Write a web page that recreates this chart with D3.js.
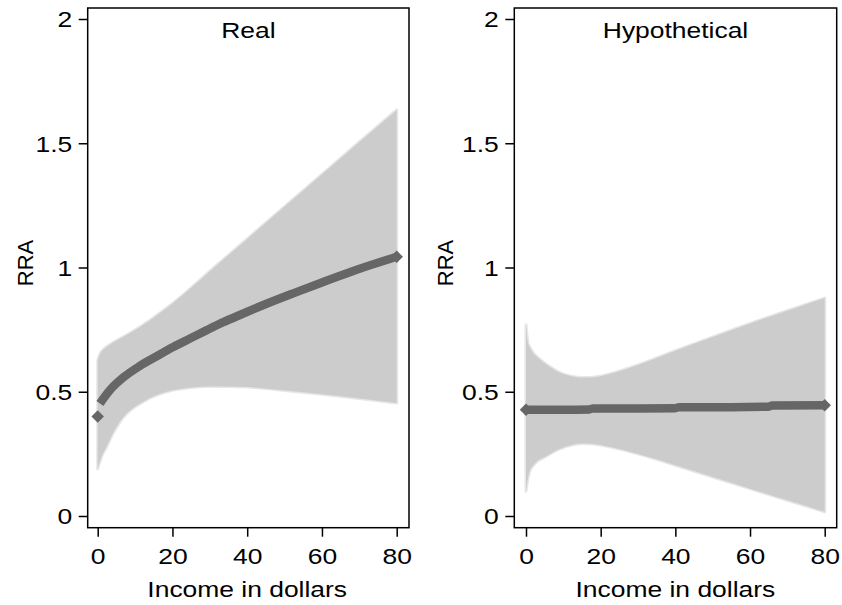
<!DOCTYPE html>
<html>
<head>
<meta charset="utf-8">
<script src="https://cdn.jsdelivr.net/npm/d3@7"></script>
<style>
  html, body { margin: 0; padding: 0; background: #fff; }
  text { font-family: "Liberation Sans", Arial, Helvetica, sans-serif; fill: #000; }
</style>
</head>
<body>
<svg id="chart" width="842" height="605"></svg>
<script>
// ---------------- data ----------------
const panelTitles = ["Real", "Hypothetical"];
const xTicks = [0, 20, 40, 60, 80];
const yTicks = [0, 0.5, 1, 1.5, 2];
const xAxisTitle = "Income in dollars";
const yAxisTitle = "RRA";

// Real: confidence band
const realBandIncome = [0, 0.5, 1.5, 2, 4, 6, 7, 10, 12, 14, 16, 20, 24, 30, 35, 40, 50, 60, 70, 80];
const realUpper      = [0.625, 0.648, 0.67, 0.676, 0.697, 0.714, 0.722, 0.748, 0.768, 0.788, 0.81, 0.855, 0.905, 0.985, 1.05, 1.115, 1.245, 1.375, 1.505, 1.634];
const realLower      = [0.19, 0.215, 0.255, 0.268, 0.33, 0.38, 0.40, 0.44, 0.458, 0.475, 0.488, 0.506, 0.515, 0.521, 0.521, 0.519, 0.505, 0.49, 0.473, 0.455];
// Real: estimate
const realMeanIncome = [0, 0.6, 3.3, 6.9, 11.3, 15.8, 20.2, 24.7, 29.2, 33.6, 38.5, 45, 53, 60, 68, 80];
const realMean       = [0.40, 0.453, 0.507, 0.558, 0.604, 0.643, 0.68, 0.714, 0.748, 0.78, 0.812, 0.853, 0.90, 0.94, 0.984, 1.043];

// Hypothetical: confidence band
const hypBandIncome = [0, 0.5, 1, 2, 3, 5, 7, 9, 12, 15, 18, 22, 26, 30, 35, 40, 50, 60, 70, 80];
const hypUpper      = [0.77, 0.70, 0.68, 0.655, 0.64, 0.615, 0.595, 0.577, 0.563, 0.557, 0.558, 0.57, 0.588, 0.608, 0.636, 0.665, 0.72, 0.775, 0.826, 0.877];
const hypLower      = [0.10, 0.15, 0.18, 0.205, 0.22, 0.237, 0.255, 0.27, 0.285, 0.292, 0.29, 0.28, 0.266, 0.25, 0.228, 0.204, 0.157, 0.11, 0.063, 0.017];
// Hypothetical: estimate
const hypMeanIncome = [0, 10, 17, 18, 30, 40, 41, 55, 65, 66, 80];
const hypMean       = [0.428, 0.428, 0.429, 0.433, 0.433, 0.434, 0.438, 0.438, 0.44, 0.445, 0.446];

// ---------------- layout ----------------
const FONT = 21.5, SX = 1.23;
const panels = [
  { title: panelTitles[0], frame: [87.7, 8, 409, 527.7], xr: [97.7, 396.7],
    bandX: realBandIncome, upper: realUpper, lower: realLower,
    meanX: realMeanIncome, mean: realMean, lineFrom: 1, ylabX: 33.3 },
  { title: panelTitles[1], frame: [514.3, 8, 836.7, 527.7], xr: [526, 824.7],
    bandX: hypBandIncome, upper: hypUpper, lower: hypLower,
    meanX: hypMeanIncome, mean: hypMean, lineFrom: 0, ylabX: 453.3 }
];

const svg = d3.select("#chart");
const y = d3.scaleLinear().domain([0, 2]).range([516, 19]);
const diamond = d3.symbol().type(d3.symbolSquare).size(78);

panels.forEach(p => {
  const [fx0, fy0, fx1, fy1] = p.frame;
  const x = d3.scaleLinear().domain([0, 80]).range(p.xr);
  const g = svg.append("g");

  // band
  const band = p.bandX.map((d, i) => ({ x: d, lo: p.lower[i], hi: p.upper[i] }));
  const area = d3.area().x(d => x(d.x)).y0(d => y(d.lo)).y1(d => y(d.hi)).curve(d3.curveMonotoneX);
  g.append("path").datum(band).attr("d", area)
    .attr("fill", "#e6e6e6").attr("stroke", "#e6e6e6").attr("stroke-width", 3).attr("stroke-linejoin", "round");
  g.append("path").datum(band).attr("d", area).attr("fill", "#cccccc");

  // mean line
  const pts = p.meanX.map((d, i) => ({ x: d, v: p.mean[i] }));
  const line = d3.line().x(d => x(d.x)).y(d => y(d.v)).curve(d3.curveMonotoneX);
  g.append("path").datum(pts.slice(p.lineFrom)).attr("d", line)
    .attr("fill", "none").attr("stroke", "#666666").attr("stroke-width", 8.5);
  [pts[0], pts[pts.length - 1]].forEach(d => {
    g.append("path").attr("d", diamond)
      .attr("transform", `translate(${x(d.x)},${y(d.v)}) rotate(45)`)
      .attr("fill", "#666666");
  });

  // frame
  g.append("rect").attr("x", fx0).attr("y", fy0).attr("width", fx1 - fx0).attr("height", fy1 - fy0)
    .attr("fill", "none").attr("stroke", "#000").attr("stroke-width", 1.5);

  // y axis
  const ya = g.append("g").attr("transform", `translate(${fx0},0)`)
    .call(d3.axisLeft(y).tickValues(yTicks).tickSize(9).tickPadding(6.5).tickFormat(d => String(d)));
  ya.select(".domain").remove();
  ya.selectAll("line").attr("stroke", "#000").attr("stroke-width", 1.5);
  ya.selectAll("text").attr("font-size", FONT).attr("fill", "#000")
    .attr("x", -15.5 / SX).attr("dy", "0.36em").attr("transform", `scale(${SX},1)`);

  // x axis
  const xa = g.append("g").attr("transform", `translate(0,${fy1})`)
    .call(d3.axisBottom(x).tickValues(xTicks).tickSize(9).tickPadding(11.6).tickFormat(d => String(d)));
  xa.select(".domain").remove();
  xa.selectAll("line").attr("stroke", "#000").attr("stroke-width", 1.5);
  xa.selectAll("text").attr("font-size", FONT).attr("fill", "#000").attr("transform", `scale(${SX},1)`);

  // titles
  g.append("text").attr("text-anchor", "middle").attr("font-size", FONT)
    .attr("transform", `translate(${(fx0 + fx1) / 2},38.3) scale(${SX},1)`).text(p.title);
  g.append("text").attr("text-anchor", "middle").attr("font-size", FONT)
    .attr("transform", `translate(${(p.xr[0] + p.xr[1]) / 2},597) scale(${SX},1)`).text(xAxisTitle);
  g.append("text").attr("text-anchor", "middle").attr("font-size", 22)
    .attr("transform", `translate(${p.ylabX},263) rotate(-90)`).text(yAxisTitle);
});
</script>
</body>
</html>
